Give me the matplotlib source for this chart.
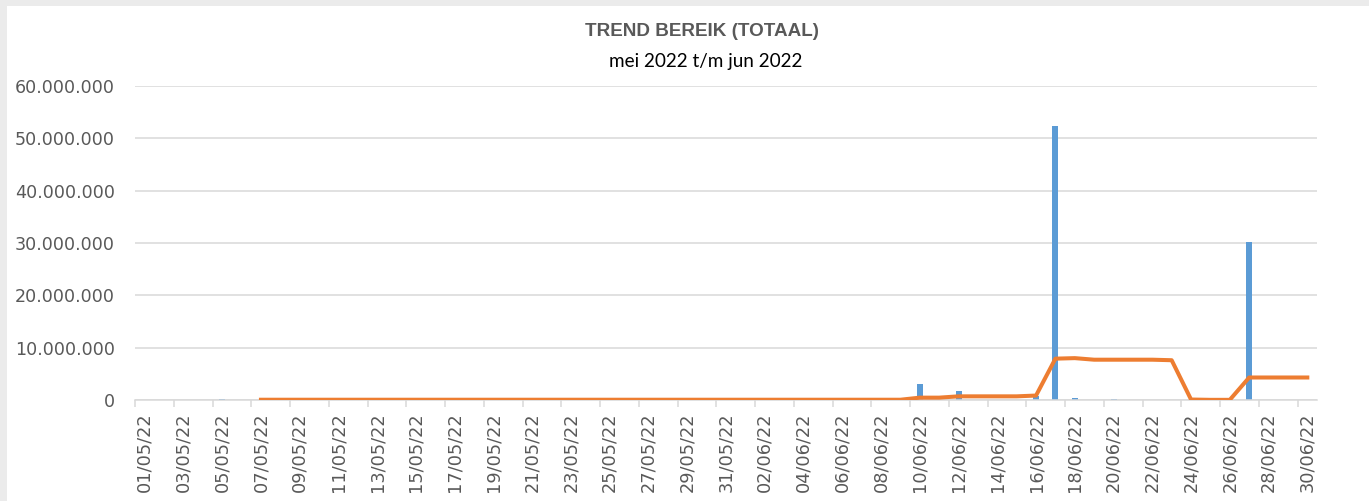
import matplotlib
matplotlib.use("Agg")
import numpy as np
import matplotlib.pyplot as plt
from matplotlib.patches import Rectangle
from matplotlib.ticker import FuncFormatter
import datetime as dt

# dates 01/05/22 .. 30/06/22
start = dt.date(2022, 5, 1)
dates = [start + dt.timedelta(days=i) for i in range(61)]
date_labels = [d.strftime("%d/%m/%y") for d in dates]

# daily reach (millions)
bereik = [0, 0, 0, 0, 0.15, 0, 0, 0, 0, 0,
          0, 0, 0, 0, 0, 0, 0, 0, 0, 0,
          0, 0, 0, 0, 0, 0, 0, 0, 0, 0,
          0, 0, 0, 0, 0, 0, 0, 0, 0, 0,
          3.0, 0, 1.8, 0, 0, 0, 0.8, 52.4, 0.4, 0,
          0.2, 0, 0, 0, 0, 0, 0, 30.2, 0, 0,
          0]

# trend line (millions), starts at 07/05/22
trend = [np.nan] * 6 + [0.05] * 34 + [
    0.45, 0.45, 0.7, 0.7, 0.7, 0.7, 0.85, 7.9, 8.0, 7.7,
    7.7, 7.7, 7.7, 7.6, 0.09, 0.03, 0.03, 4.3, 4.3, 4.3,
    4.3]

bereik = np.array(bereik) * 1e6
trend = np.array(trend) * 1e6
x = np.arange(len(dates))

fig = plt.figure(figsize=(13.69, 5.01), dpi=100)
fig.patch.set_facecolor("#ebebeb")
bg = fig.add_axes([0, 0, 1, 1], zorder=-10)
bg.set_axis_off()
bg.set_xlim(0, 1)
bg.set_ylim(0, 1)
bg.add_patch(Rectangle((7 / 1369, 0), 1, 1 - 6 / 501, facecolor="white", edgecolor="none"))

ax = fig.add_axes([135 / 1369, 1 - 400 / 501, 1182 / 1369, 314 / 501])
ax.set_facecolor("none")

ax.bar(x, bereik, width=0.31, color="#5B9BD5", zorder=2)
ax.plot(x, trend, color="#ED7D31", linewidth=2.9, solid_joinstyle="round", zorder=3)

ax.set_xlim(-0.5, 60.5)
ax.set_ylim(0, 60e6)
ax.set_yticks(np.arange(0, 60e6 + 1, 10e6))
ax.yaxis.set_major_formatter(FuncFormatter(lambda v, p: f"{int(v):,}".replace(",", ".")))
ax.grid(axis="y", color="#d9d9d9", linewidth=1.1, zorder=0)

ax.set_xticks(x[::2])
ax.set_xticklabels(date_labels[::2], rotation=90)
ax.set_xticks(np.arange(-0.5, 60, 2), minor=True)
ax.tick_params(axis="x", which="major", length=0, pad=9, labelsize=12.8, colors="#595959")
ax.tick_params(axis="x", which="minor", length=5, width=1.1, color="#d9d9d9")
ax.tick_params(axis="y", length=0, pad=14.5, labelsize=12.6, colors="#595959")

for s in ["top", "right", "left"]:
    ax.spines[s].set_visible(False)
ax.spines["bottom"].set_color("#d9d9d9")
ax.spines["bottom"].set_linewidth(1.1)

fig.text(702 / 1369, 1 - 31 / 501, "TREND BEREIK (TOTAAL)", ha="center", va="center",
         fontsize=13.6, fontweight="bold", color="#595959", family="Liberation Sans")
fig.text(706 / 1369, 1 - 61 / 501, "mei 2022 t/m jun 2022", ha="center", va="center",
         fontsize=13.6, color="black", family="Lato")

fig.savefig("out.png", dpi=100, facecolor=fig.get_facecolor())
